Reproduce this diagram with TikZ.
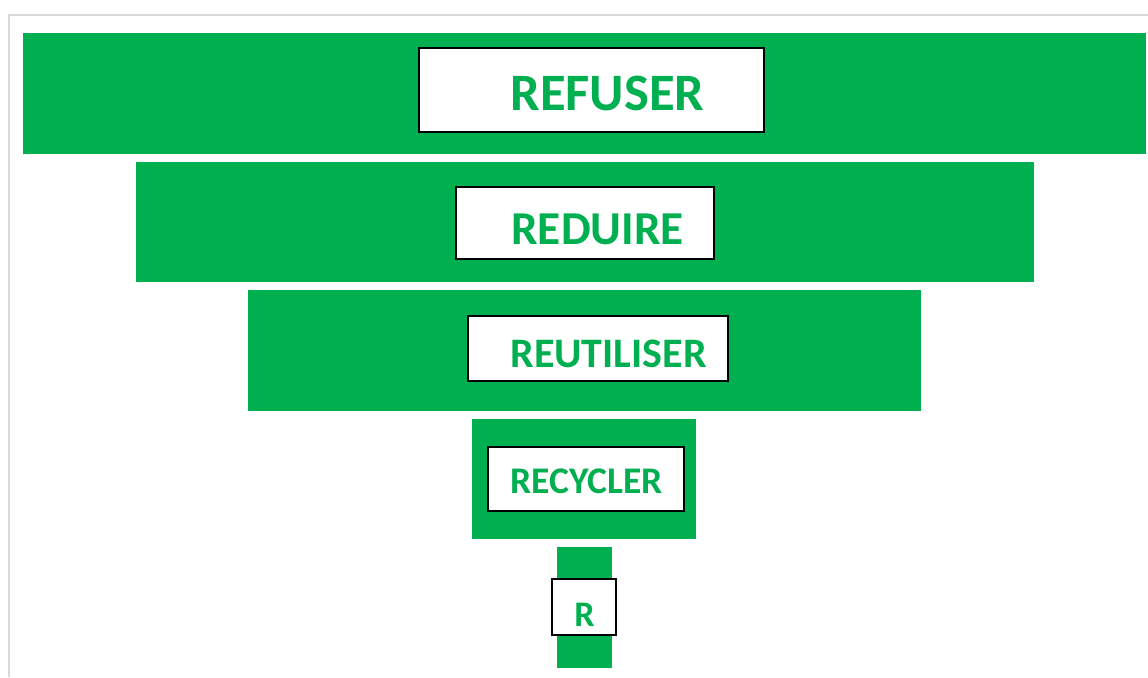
\documentclass[tikz,border=0pt]{standalone}
\usepackage{fontspec}
\setmainfont{Carlito}
\usepackage{xcolor}
\usetikzlibrary{positioning}
\definecolor{ecogreen}{RGB}{0,176,80}
\tikzstyle{band}=[fill=ecogreen]
\begin{document}
\begin{tikzpicture}[x=0.5pt,y=-0.5pt,
	box/.style={draw=black,fill=white,line width=0.6pt},
	word/.style={anchor=base west,text=ecogreen,inner sep=0pt}]
		\useasboundingbox (0,0) rectangle (1148,677);
		\draw[black!15,line width=0.8pt] (1148,15) -- (9,15) -- (9,677);
		% bands
		\fill[band] (23,33) rectangle (1146,154);
		\fill[band] (136,162) rectangle (1034,282);
		\fill[band] (248,290) rectangle (921,411);
		\fill[band] (472,419) rectangle (696,539);
		\fill[band] (557,547) rectangle (612,668);
		% boxes
		\draw[box] (419,48) rectangle (764,132);
		\draw[box] (456,187) rectangle (714,259);
		\draw[box] (468,316) rectangle (728,381);
		\draw[box] (488,447) rectangle (684,511);
		\draw[box] (552,579) rectangle (616,635);
		% labels
		\node[word,font=\bfseries\fontsize{26.3}{30}\selectfont] (refuser) at (510,110) {REFUSER};
		\node[word,font=\bfseries\fontsize{23.6}{28}\selectfont] (reduire) at (511,244) {REDUIRE};
		\node[word,font=\bfseries\fontsize{21}{25}\selectfont] (reutiliser) at (510,367) {REUTILISER};
		\node[word,font=\bfseries\fontsize{18.8}{23}\selectfont] (recycler) at (510,493) {RECYCLER};
		\node[word,font=\bfseries\fontsize{18}{22}\selectfont] (r) at (574,626) {R};
	\end{tikzpicture}
\end{document}
